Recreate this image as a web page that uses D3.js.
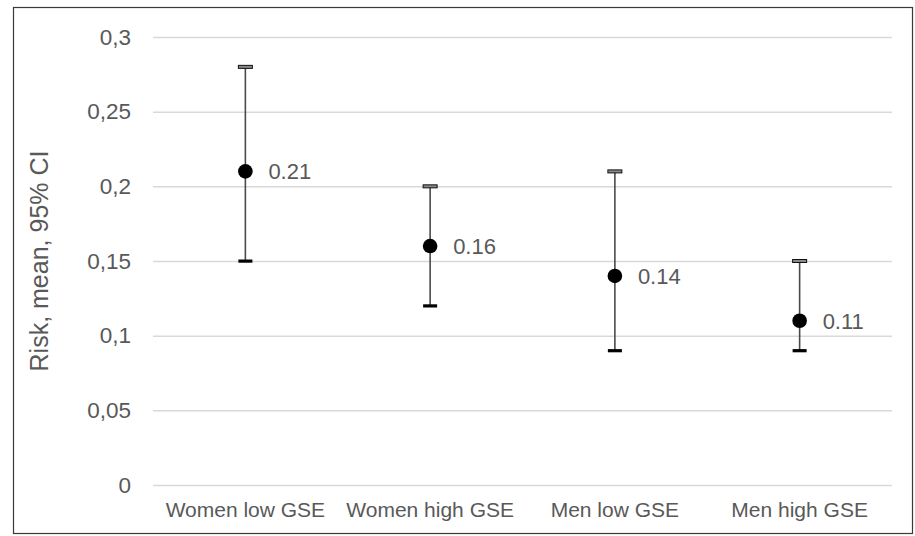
<!DOCTYPE html>
<html>
<head>
<meta charset="utf-8">
<script src="https://cdn.jsdelivr.net/npm/d3@7"></script>
<style>
  html, body { margin: 0; padding: 0; background: #fff; }
  svg { display: block; font-family: "Liberation Sans", Arial, sans-serif; }
</style>
</head>
<body>
<svg id="chart" width="915" height="536"></svg>
<script>
// Groups and their risk estimates with 95% confidence limits
const groups = ["Women low GSE", "Women high GSE", "Men low GSE", "Men high GSE"];
const means  = [0.21, 0.16, 0.14, 0.11];
const lower  = [0.15, 0.12, 0.09, 0.09];
const upper  = [0.28, 0.20, 0.21, 0.15];
const yTicks = [0, 0.05, 0.1, 0.15, 0.2, 0.25, 0.3];
const yTickLabels = ["0", "0,05", "0,1", "0,15", "0,2", "0,25", "0,3"];
const yTitle = "Risk, mean, 95% CI";

const rows = groups.map((g, i) => ({ g, mean: means[i], lo: lower[i], hi: upper[i] }));

const svg = d3.select("#chart");
const W = 915, H = 536;
const plot = { left: 153, right: 892, top: 37, bottom: 485 };
const textColor = "#595959";

// outer frame
svg.append("rect")
  .attr("x", 13.5).attr("y", 7.5)
  .attr("width", W - 16).attr("height", H - 10)
  .attr("fill", "#fff").attr("stroke", "#3a3a3a").attr("stroke-width", 1.2);

const x = d3.scaleBand().domain(groups).range([plot.left, plot.right]);
const y = d3.scaleLinear().domain([0, 0.3]).range([plot.bottom, plot.top]);

// horizontal gridlines with tick labels
const yAxis = d3.axisLeft(y)
  .tickValues(yTicks)
  .tickFormat((d, i) => yTickLabels[i])
  .tickSize(-(plot.right - plot.left))
  .tickPadding(22);

const gy = svg.append("g")
  .attr("transform", `translate(${plot.left},0)`)
  .call(yAxis);
gy.select(".domain").remove();
gy.selectAll(".tick line").attr("stroke", "#d9d9d9").attr("stroke-width", 1.5);
gy.selectAll(".tick text")
  .attr("fill", textColor)
  .attr("font-size", 22.5)
  .attr("font-family", "Liberation Sans, Arial, sans-serif");

// category axis labels
const xAxis = d3.axisBottom(x).tickSize(0).tickPadding(17);
const gx = svg.append("g")
  .attr("transform", `translate(0,${plot.bottom})`)
  .call(xAxis);
gx.select(".domain").remove();
gx.selectAll(".tick text")
  .attr("fill", textColor)
  .attr("font-size", 21)
  .attr("font-family", "Liberation Sans, Arial, sans-serif");

// y axis title
svg.append("text")
  .attr("transform", `translate(48,${(plot.top + plot.bottom) / 2}) rotate(-90)`)
  .attr("text-anchor", "middle")
  .attr("fill", textColor)
  .attr("font-size", 25)
  .text(yTitle);

const cx = d => x(d.g) + x.bandwidth() / 2;
const capW = 14;

const marks = svg.append("g").selectAll("g").data(rows).join("g");

// interval whiskers
marks.append("line")
  .attr("x1", cx).attr("x2", cx)
  .attr("y1", d => y(d.hi)).attr("y2", d => y(d.lo))
  .attr("stroke", "#4a4a4a").attr("stroke-width", 1.6);

// upper cap (outlined)
marks.append("rect")
  .attr("x", d => cx(d) - capW / 2).attr("y", d => y(d.hi) - 1.5)
  .attr("width", capW).attr("height", 3)
  .attr("fill", "#8a8a8a").attr("stroke", "#111").attr("stroke-width", 1);

// lower cap (solid)
marks.append("rect")
  .attr("x", d => cx(d) - capW / 2).attr("y", d => y(d.lo) - 1.5)
  .attr("width", capW).attr("height", 3.2)
  .attr("fill", "#000");

// mean markers
marks.append("circle")
  .attr("cx", cx).attr("cy", d => y(d.mean))
  .attr("r", 7.3).attr("fill", "#000");

// value labels
marks.append("text")
  .attr("x", d => cx(d) + 23).attr("y", d => y(d.mean))
  .attr("dy", "0.36em")
  .attr("fill", textColor)
  .attr("font-size", 22)
  .text(d => d.mean.toFixed(2));
</script>
</body>
</html>
